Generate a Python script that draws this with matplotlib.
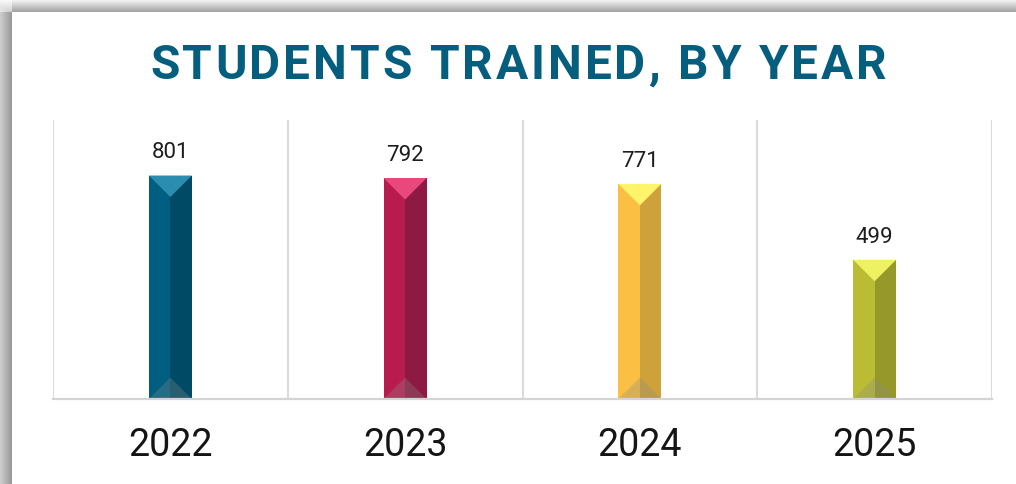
import numpy as np
import matplotlib
matplotlib.use("Agg")
import matplotlib.pyplot as plt
from matplotlib.patches import Polygon, Rectangle
from matplotlib.font_manager import FontProperties, findfont, get_font

# data
years = ['2022', '2023', '2024', '2025']
students = [801, 792, 771, 499]
title = 'STUDENTS TRAINED, BY YEAR'

# bevel colours: front (left half), side (right half), top cap
front = ['#005f80', '#b81c4f', '#fbbf44', '#babd33']
side = ['#004a66', '#8e1942', '#cfa13a', '#96982a']
cap = ['#2b8daf', '#e9487c', '#fff46c', '#eef262']

W, H = 1016, 485
fig = plt.figure(figsize=(W / 100, H / 100), dpi=100)

# card shadow on left and top edges
bg = fig.add_axes([0, 0, 1, 1])
img = np.ones((H, W))
xs = np.arange(12)
left = 0.80 - 0.20 * xs / 11
ys = np.arange(13)
top = 0.97 - 0.33 * ys / 12
img[13:, :12] = left[None, :]
img[:13, 12:] = top[:, None]
img[:13, :12] = np.maximum(top[:, None], left[None, :]) * 0.5 + 0.5
bg.imshow(img, cmap='gray', vmin=0, vmax=1, extent=[0, W, H, 0], aspect='auto', interpolation='nearest')
bg.set_xlim(0, W)
bg.set_ylim(H, 0)
bg.axis('off')

# plot area
x0, x1, y_top, y_base = 53, 992, 121, 400
ax = fig.add_axes([x0 / W, 1 - y_base / H, (x1 - x0) / W, (y_base - y_top) / H])
ax.patch.set_visible(False)
n = len(years)
ax.set_xlim(-0.5, n - 0.5)
ax.set_ylim(0, 1000)
for s in ['top', 'left', 'right']:
    ax.spines[s].set_visible(False)
ax.spines['bottom'].set_color('#d4d4d4')
ax.spines['bottom'].set_linewidth(1.6)
for gx in np.arange(-0.5, n, 1.0):
    ax.axvline(gx, color='#dcdcdc', lw=1.6, zorder=0)
ax.set_yticks([])

bw = 0.183
# bevel height in data units so the triangles are 45 degrees on screen
px_x = (x1 - x0) / n
px_y = (y_base - y_top) / 1000
tri = (bw / 2 * px_x) / px_y

for i, v in enumerate(students):
    l, r, c = i - bw / 2, i + bw / 2, i
    ax.add_patch(Rectangle((l, 0), bw / 2, v, color=front[i], lw=0))
    ax.add_patch(Rectangle((c, 0), bw / 2, v, color=side[i], lw=0))
    ax.add_patch(Polygon([(l, v), (r, v), (c, v - tri)], closed=True, color=cap[i], lw=0))
    ax.add_patch(Polygon([(l, 0), (r, 0), (c, tri)], closed=True, color='#8a8a8a', alpha=0.3, lw=0))
    ax.annotate(str(v), (i, v), xytext=(0, 13), textcoords='offset points',
                ha='center', va='baseline', fontsize=16, family='Roboto', color='#1e1e1e')

ax.set_xticks(range(n))
ax.set_xticklabels(years, fontsize=27, family='Roboto', color='#151515')
ax.tick_params(axis='x', length=0, pad=40.3)
for t in ax.get_xticklabels():
    t.set_va('baseline')

# title with letter spacing
tprop = FontProperties(family='Roboto', weight='bold', size=34.5)
font = get_font(findfont(tprop))
font.set_size(34.5, 100)
adv = []
for ch in title:
    g = font.load_char(ord(ch))
    adv.append(g.linearHoriAdvance / 65536)
target = 737
track = (target - sum(adv[:-1]) - adv[-1]) / (len(title) - 1)
x = 518.5 - target / 2
for ch, a in zip(title, adv):
    fig.text(x / W, 1 - 79 / H, ch, fontproperties=tprop, color='#065e7e',
             ha='left', va='baseline')
    x += a + track

fig.savefig('out.png', dpi=100)
